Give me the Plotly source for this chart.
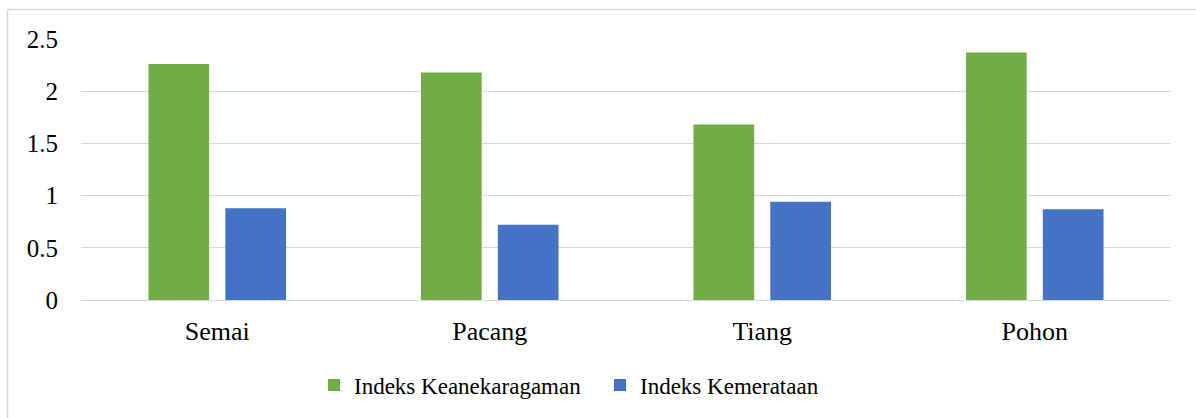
import plotly.graph_objects as go

categories = ["Semai", "Pacang", "Tiang", "Pohon"]
keanekaragaman = [2.26, 2.18, 1.68, 2.37]
kemerataan = [0.88, 0.72, 0.94, 0.87]
y_ticks = [0, 0.5, 1, 1.5, 2, 2.5]
y_tick_labels = ["0", "0.5", "1", "1.5", "2", "2.5"]

W, H = 1196, 418
L, R, T, B = 81, 1171, 39, 300
pw, ph = R - L, B - T

def px(x):
    return (x - L) / pw

def py(y):
    return (B - y) / ph

SERIF = "Liberation Serif"

fig = go.Figure()
fig.add_trace(go.Bar(x=categories, y=keanekaragaman, name="Indeks Keanekaragaman",
                     marker=dict(color="#70AD47", line=dict(width=0))))
fig.add_trace(go.Bar(x=categories, y=kemerataan, name="Indeks Kemerataan",
                     marker=dict(color="#4472C4", line=dict(width=0))))

grid = "#D9D9D9"
fig.update_layout(
    width=W, height=H,
    margin=dict(l=L, r=W - R, t=T, b=H - B, autoexpand=False),
    paper_bgcolor="white", plot_bgcolor="white",
    barmode="group", bargap=0.436, bargroupgap=0.21,
    font=dict(family=SERIF, color="#000000", size=24),
    showlegend=True,
    legend=dict(orientation="h", x=px(314), xanchor="left", y=py(385), yanchor="middle",
                font=dict(family=SERIF, size=23, color="#000000"), entrywidth=241,
                bgcolor="rgba(0,0,0,0)", borderwidth=0),
    xaxis=dict(showgrid=False, showline=False, zeroline=False, ticks="",
               tickfont=dict(family=SERIF, size=26, color="#000000"), ticklabelstandoff=13),
    yaxis=dict(range=[0, 2.5], tickvals=y_ticks, ticktext=y_tick_labels,
               showgrid=True, gridcolor=grid, gridwidth=1, zeroline=True, zerolinecolor=grid,
               zerolinewidth=1, showline=False, ticks="",
               tickfont=dict(family=SERIF, size=25, color="#000000"),
               ticklabelstandoff=22),
)

# outer chart border (top and left visible)
fig.add_shape(type="line", xref="paper", yref="paper", x0=px(7.5), x1=px(W + 5), y0=py(9.5), y1=py(9.5),
              line=dict(color=grid, width=1.5))
fig.add_shape(type="line", xref="paper", yref="paper", x0=px(7.5), x1=px(7.5), y0=py(9.5), y1=py(H + 5),
              line=dict(color=grid, width=1.5))

fig.write_html("out.html", config={"displayModeBar": False},
               post_script="document.body.style.margin='0';document.body.style.padding='0';"
                           "document.documentElement.style.overflow='hidden';")
